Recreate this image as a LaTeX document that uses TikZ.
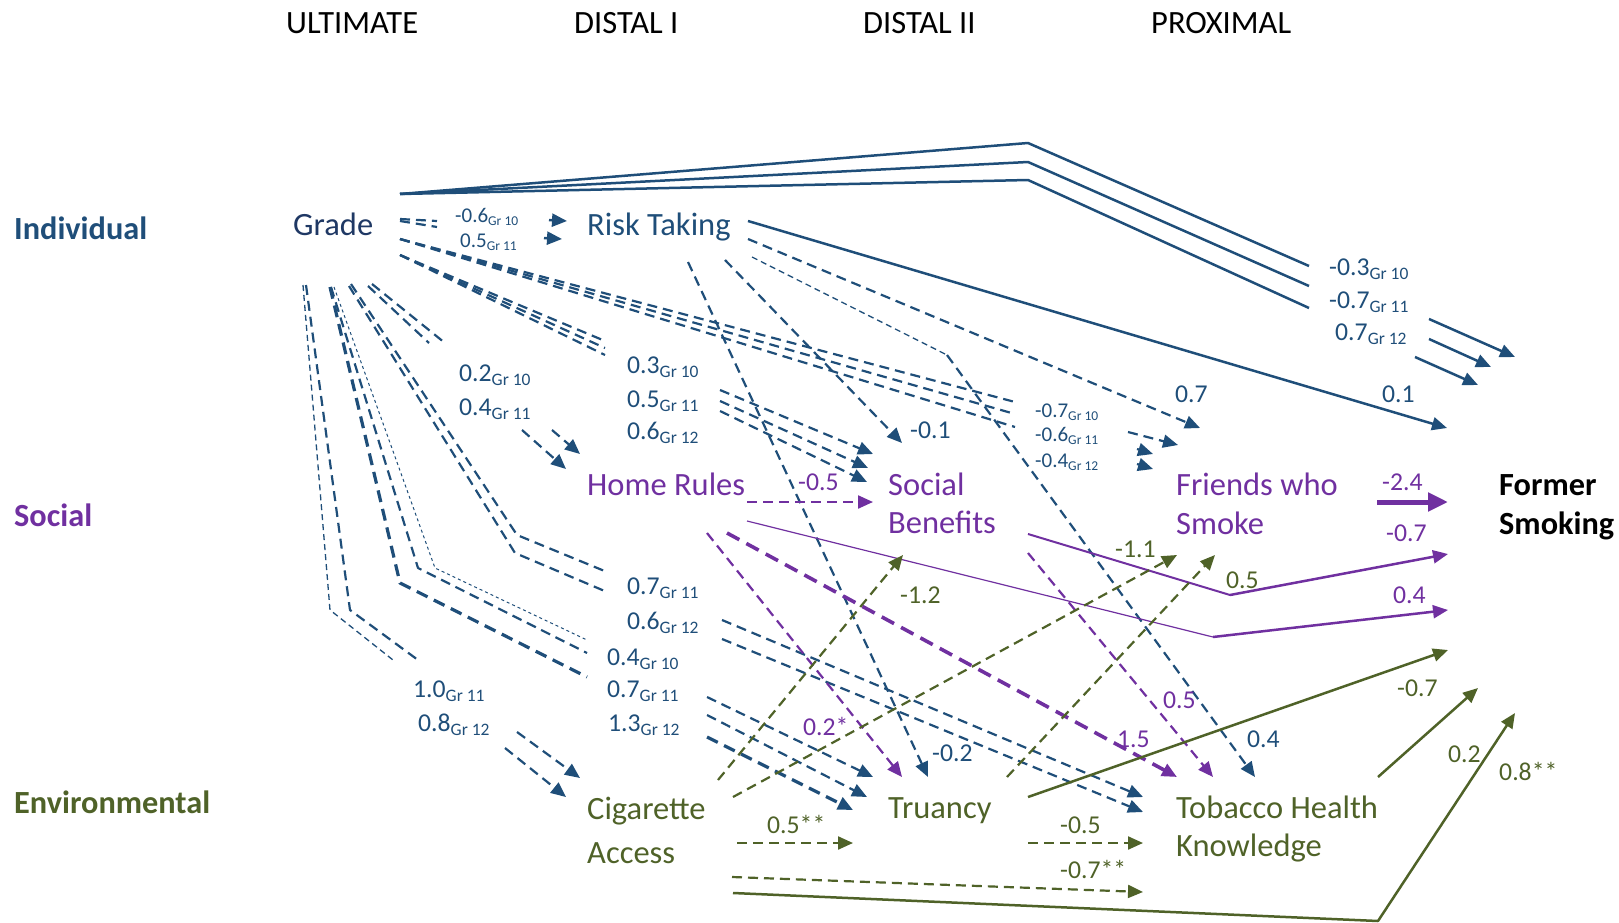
\documentclass[tikz,border=0pt]{standalone}
\usepackage{fontspec}
\setmainfont{Carlito}
\usetikzlibrary{arrows.meta}
\definecolor{blu}{HTML}{1F4E79}
\definecolor{navy}{HTML}{1F3864}
\definecolor{pur}{HTML}{7030A0}
\definecolor{grn}{HTML}{4F6228}
\newcommand\subgr[1]{\raisebox{-4pt}{\fontsize{17.5}{17.5}\selectfont Gr~#1}}
\newcommand\subgrs[1]{\raisebox{-3pt}{\fontsize{13.5}{13.5}\selectfont Gr~#1}}
\tikzset{
  nd/.style={anchor=base west,inner sep=0pt,font=\fontsize{32.5}{32.5}\selectfont},
  ndb/.style={anchor=base west,inner sep=0pt,font=\fontsize{32.3}{32.3}\selectfont\bfseries},
  lab/.style={anchor=base west,inner sep=0pt,font=\fontsize{25.7}{25.7}\selectfont},
  slab/.style={anchor=base west,inner sep=0pt,font=\fontsize{21}{21}\selectfont},
  tip/.style={-{Triangle[length=15pt,width=13pt]}},
  bigtip/.style={-{Triangle[length=20pt,width=18pt]}},
  dsh/.style={dash pattern=on 10pt off 6pt},
  bline/.style={draw=blu,line width=2.5pt},
  bdsh/.style={draw=blu,line width=2.2pt,dsh},
  bthin/.style={draw=blu,line width=1.3pt,dash pattern=on 6pt off 4pt},
  bdot/.style={draw=blu,line width=1pt,dash pattern=on 3pt off 3pt},
  bthick/.style={draw=blu,line width=3.2pt,dash pattern=on 12pt off 7pt},
  pdsh/.style={draw=pur,line width=2.2pt,dsh},
  pthick/.style={draw=pur,line width=3.6pt,dash pattern=on 14pt off 8pt},
  pline/.style={draw=pur,line width=2.5pt},
  gdsh/.style={draw=grn,line width=2.2pt,dsh},
  gline/.style={draw=grn,line width=2.5pt},
}
\begin{document}
\begin{tikzpicture}[x=1pt,y=-1pt]
\useasboundingbox (0,0) rectangle (1619,923);

% ---------------- blue solid: Grade -> Former
\draw[bline,line join=round] (400,194) -- (1028,143) -- (1309,266);
\draw[bline,line join=round] (400,194) -- (1028,162) -- (1309,286);
\draw[bline,line join=round] (400,194) -- (1028,180) -- (1309,308);
\draw[bline,tip] (1429,319) -- (1515,357);
\draw[bline,tip] (1429,339) -- (1491,367);
\draw[bline,tip] (1415,357) -- (1478,385);
% Risk Taking -> Former
\draw[bline,tip] (748,221) -- (1447,428);

% ---------------- Grade -> Risk Taking
\draw[bdsh] (400,219) -- (437,221);
\draw[bdsh] (400,221) -- (437,227);
\draw[bline,tip] (549,220) -- (567,221);
\draw[bline,tip] (544,238) -- (562,239);

% Grade -> Friends who Smoke
\draw[bdsh] (400,239) -- (1015,402);
\draw[bdsh] (400,239) -- (1015,414);
\draw[bdsh] (400,239) -- (1015,427);
\draw[bdsh,tip] (1128,432) -- (1178,445);
\draw[bdsh,tip] (1137,449) -- (1153,454);
\draw[bdsh,tip] (1137,464) -- (1153,469);

% Grade -> Social Benefits
\draw[bdsh] (400,255) -- (605,341);
\draw[bdsh] (400,255) -- (605,348);
\draw[bdsh] (400,255) -- (605,355);
\draw[bdsh,tip] (720,390) -- (873,454);
\draw[bdsh,tip] (720,401) -- (868,468);
\draw[bdsh,tip] (720,411) -- (867,482);

% Grade -> Home Rules
\draw[bdsh] (372,284) -- (445,343);
\draw[bdsh] (368,286) -- (429,343);
\draw[bdsh,tip] (552,430) -- (580,454);
\draw[bdsh,tip] (522,430) -- (566,469);

% Grade -> Tobacco Health Knowledge
\draw[bdsh,line join=round] (351,284) -- (517,535) -- (607,572);
\draw[bdsh,line join=round] (349,286) -- (515,553) -- (607,592);
\draw[bdsh,tip] (722,620) -- (1143,797);
\draw[bdsh,tip] (722,639) -- (1143,812);

% Grade -> Truancy
\draw[bdot,line join=round] (334,287) -- (435,568) -- (587,640);
\draw[bdsh,line join=round] (331,287) -- (418,568) -- (587,653);
\draw[bthick,line join=round] (330,287) -- (400,583) -- (587,677);
\draw[bdsh,tip] (707,697) -- (873,777);
\draw[bdsh,tip] (707,715) -- (867,797);
\draw[bthick,tip] (707,737) -- (853,810);

% Grade -> Cigarette Access
\draw[bthin,line join=round] (303,285) -- (330,610) -- (393,660);
\draw[bdsh,line join=round] (306,285) -- (350,610) -- (418,660);
\draw[bdsh,tip] (505,748) -- (566,797);
\draw[bdsh,tip] (517,732) -- (580,778);

% Risk Taking -> others
\draw[bdsh,tip] (748,239) -- (1200,428);
\draw[bthin] (752,257) -- (947,355);
\draw[bdsh,tip] (947,355) -- (1255,777);
\draw[bdsh,tip] (725,260) -- (902,443);
\draw[bdsh,tip] (688,262) -- (928,777);

% ---------------- purple
\draw[pdsh,tip] (747,502) -- (873,502);
\draw[draw=pur,line width=1.2pt] (747,521) -- (1213,637);
\draw[pline,tip] (1213,637) -- (1448,610);
\draw[pdsh,tip] (707,533) -- (902,777);
\draw[pthick,tip] (727,533) -- (1177,777);
\draw[draw=pur,line width=2pt] (1028,534) -- (1230,595);
\draw[pline,tip] (1230,595) -- (1448,554);
\draw[pdsh,tip] (1028,553) -- (1213,777);
\draw[draw=pur,line width=5pt,bigtip] (1377,502) -- (1448,502);

% ---------------- green
\draw[gdsh,tip] (718,780) -- (903,555);
\draw[gdsh,tip] (733,797) -- (1177,555);
\draw[gdsh,tip] (737,843) -- (853,843);
\draw[gdsh,tip] (732,877) -- (1143,892);
\draw[gline,tip,line join=round] (733,893) -- (1378,921) -- (1515,713);
\draw[gline,tip] (1028,797) -- (1448,650);
\draw[gdsh,tip] (1007,777) -- (1215,555);
\draw[gdsh,tip] (1028,843) -- (1143,843);
\draw[gline,tip] (1378,777) -- (1478,688);

% ---------------- headers
\node[nd] (hU) at (286,34) {ULTIMATE};
\node[nd] (hD1) at (574,34) {DISTAL I};
\node[nd] (hD2) at (863,34) {DISTAL II};
\node[nd] (hP) at (1151,34) {PROXIMAL};

% ---------------- row labels
\node[ndb,text=blu] (lInd) at (14,239) {Individual};
\node[ndb,text=pur] (lSoc) at (14,526) {Social};
\node[ndb,text=grn] (lEnv) at (14,813) {Environmental};

% ---------------- variables
\node[nd,text=navy] (grade) at (293,235) {Grade};
\node[nd,text=blu] (risk) at (587,235) {Risk Taking};
\node[nd,text=pur] (home) at (587,495) {Home Rules};
\node[nd,text=pur] (soc1) at (888,495) {Social};
\node[nd,text=pur] (soc2) at (888,533) {Benefits};
\node[nd,text=pur] (fr1) at (1176,495) {Friends who};
\node[nd,text=pur] (fr2) at (1176,534) {Smoke};
\node[ndb,text=black] (fs1) at (1499,495) {Former};
\node[ndb,text=black] (fs2) at (1499,534) {Smoking};
\node[nd,text=grn] (cig1) at (587,819) {Cigarette};
\node[nd,text=grn] (cig2) at (587,863) {Access};
\node[nd,text=grn] (tru) at (888,818) {Truancy};
\node[nd,text=grn] (tob1) at (1176,818) {Tobacco Health};
\node[nd,text=grn] (tob2) at (1176,856) {Knowledge};

% ---------------- blue coefficients
\node[slab,text=blu] (c1) at (455,222) {-0.6\subgrs{10}};
\node[slab,text=blu] (c2) at (460,247) {0.5\subgrs{11}};
\node[lab,text=blu] (c3) at (459,381) {0.2\subgr{10}};
\node[lab,text=blu] (c4) at (459,415) {0.4\subgr{11}};
\node[lab,text=blu] (c5) at (627,373) {0.3\subgr{10}};
\node[lab,text=blu] (c6) at (627,407) {0.5\subgr{11}};
\node[lab,text=blu] (c7) at (627,439) {0.6\subgr{12}};
\node[lab,text=blu] (c8) at (910,438) {-0.1};
\node[slab,text=blu] (c9) at (1035,417) {-0.7\subgrs{10}};
\node[slab,text=blu] (c10) at (1035,441) {-0.6\subgrs{11}};
\node[slab,text=blu] (c11) at (1035,467) {-0.4\subgrs{12}};
\node[lab,text=blu] (c12) at (1175,402) {0.7};
\node[lab,text=blu] (c13) at (1382,402) {0.1};
\node[lab,text=blu] (c14) at (1329,275) {-0.3\subgr{10}};
\node[lab,text=blu] (c15) at (1329,308) {-0.7\subgr{11}};
\node[lab,text=blu] (c16) at (1335,340) {0.7\subgr{12}};
\node[lab,text=blu] (c17) at (627,594) {0.7\subgr{11}};
\node[lab,text=blu] (c18) at (627,629) {0.6\subgr{12}};
\node[lab,text=blu] (c19) at (607,665) {0.4\subgr{10}};
\node[lab,text=blu] (c20) at (607,697) {0.7\subgr{11}};
\node[lab,text=blu] (c21) at (608,731) {1.3\subgr{12}};
\node[lab,text=blu] (c22) at (413,697) {1.0\subgr{11}};
\node[lab,text=blu] (c23) at (418,731) {0.8\subgr{12}};
\node[lab,text=blu] (c24) at (932,761) {-0.2};
\node[lab,text=blu] (c25) at (1247,747) {0.4};

% ---------------- purple coefficients
\node[lab,text=pur] (p1) at (798,490) {-0.5};
\node[lab,text=pur] (p2) at (1382,490) {-2.4};
\node[lab,text=pur] (p3) at (1386,541) {-0.7};
\node[lab,text=pur] (p4) at (1393,603) {0.4};
\node[lab,text=pur] (p5) at (803,735) {0.2*};
\node[lab,text=pur] (p6) at (1117,747) {1.5};
\node[lab,text=pur] (p7) at (1163,708) {0.5};

% ---------------- green coefficients
\node[lab,text=grn] (g1) at (900,603) {-1.2};
\node[lab,text=grn] (g2) at (1115,557) {-1.1};
\node[lab,text=grn] (g3) at (1226,588) {0.5};
\node[lab,text=grn] (g4) at (1397,696) {-0.7};
\node[lab,text=grn] (g5) at (1448,762) {0.2};
\node[lab,text=grn] (g6) at (1499,780) {0.8**};
\node[lab,text=grn] (g7) at (767,833) {0.5**};
\node[lab,text=grn] (g8) at (1060,833) {-0.5};
\node[lab,text=grn] (g9) at (1060,878) {-0.7**};
\end{tikzpicture}
\end{document}
